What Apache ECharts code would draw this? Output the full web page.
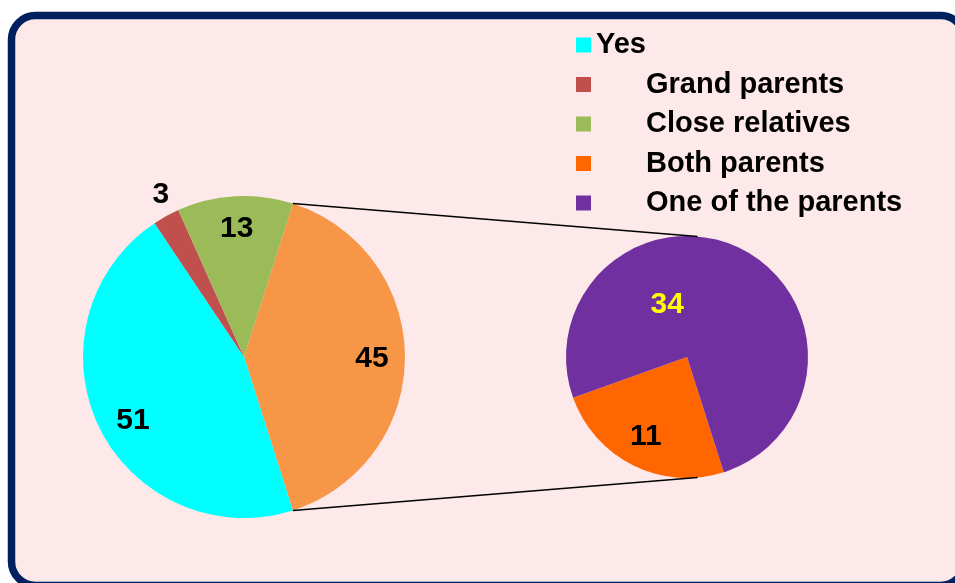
<!DOCTYPE html>
<html>
<head>
<meta charset="utf-8">
<title>Pie of pie</title>
<script src="https://cdn.jsdelivr.net/npm/echarts@6/dist/echarts.min.js"></script>
<style>
  html, body { margin: 0; padding: 0; background: #ffffff; }
  #chart { width: 955px; height: 583px; }
</style>
</head>
<body>
<div id="chart"></div>
<script>
// Legend entries (in display order)
const legendNames = ['Yes', 'Grand parents', 'Close relatives', 'Both parents', 'One of the parents'];

// Primary pie: the "Parents" slice is broken out into the secondary pie
const mainNames = ['Parents', 'Yes', 'Grand parents', 'Close relatives'];
const mainValues = [45, 51, 3, 13];

// Secondary pie: breakdown of the "Parents" slice
const splitNames = ['Both parents', 'One of the parents'];
const splitValues = [11, 34];

const colors = {
  'Parents': '#F79646',
  'Yes': '#00FFFF',
  'Grand parents': '#C0504D',
  'Close relatives': '#9BBB59',
  'Both parents': '#FF6600',
  'One of the parents': '#7030A0'
};

// Fine placement of the value labels
const labelOffsets = {
  'Parents': [-3, 2],
  'Yes': [7, 7],
  'Grand parents': [7, 1],
  'Close relatives': [0, 3],
  'Both parents': [-13, 23],
  'One of the parents': [-48, 5]
};

const FONT = '"Liberation Sans", Arial, Helvetica, sans-serif';

// Geometry of the two pies
const mainCenter = [244, 357];
const mainRadius = 161;
const subCenter = [687, 357];
const subRadius = 121;
const subStart = -72.3;

const total = mainValues.reduce((a, b) => a + b, 0);
// Broken-out slice is centred on the 3 o'clock direction
const halfSpan = mainValues[0] / total * 180;

const chart = echarts.init(document.getElementById('chart'), null, { renderer: 'canvas' });

const labelBase = {
  fontFamily: FONT,
  fontWeight: 'bold',
  fontSize: 30,
  color: '#000000'
};

// Connector lines from the edges of the broken-out slice to the secondary pie
const rad = Math.PI / 180;
const p1 = [mainCenter[0] + mainRadius * Math.cos(halfSpan * rad), mainCenter[1] - mainRadius * Math.sin(halfSpan * rad)];
const p2 = [mainCenter[0] + mainRadius * Math.cos(halfSpan * rad), mainCenter[1] + mainRadius * Math.sin(halfSpan * rad)];
const q1 = [subCenter[0] + subRadius * Math.cos(85 * rad), subCenter[1] - subRadius * Math.sin(85 * rad)];
const q2 = [subCenter[0] + subRadius * Math.cos(85 * rad), subCenter[1] + subRadius * Math.sin(85 * rad)];

function labelPie(radius, showFn) {
  return {
    type: 'pie',
    center: mainCenter,
    radius: radius,
    startAngle: halfSpan,
    clockwise: true,
    silent: true,
    avoidLabelOverlap: false,
    emphasis: { disabled: true },
    labelLine: { show: false },
    itemStyle: { color: 'transparent', borderWidth: 0 },
    label: Object.assign({ show: true, position: 'inside', formatter: '{c}' }, labelBase),
    data: mainNames.map((n, i) => ({
      name: n,
      value: mainValues[i],
      itemStyle: { color: 'transparent' },
      label: { show: showFn(n), offset: labelOffsets[n] }
    }))
  };
}

const option = {
  animation: false,
  backgroundColor: '#ffffff',
  legend: {
    data: legendNames,
    orient: 'vertical',
    left: 576,
    top: 30,
    padding: 0,
    icon: 'rect',
    itemWidth: 15,
    itemHeight: 15,
    itemGap: 9.5,
    selectedMode: false,
    formatter: function (name) {
      return name === 'Yes' ? name : '{ind|' + name + '}';
    },
    textStyle: {
      fontFamily: FONT,
      fontWeight: 'bold',
      fontSize: 29,
      lineHeight: 30,
      color: '#000000',
      rich: {
        ind: {
          fontFamily: FONT,
          fontWeight: 'bold',
          fontSize: 29,
          lineHeight: 30,
          color: '#000000',
          padding: [0, 0, 0, 50]
        }
      }
    }
  },
  graphic: [
    {
      type: 'rect',
      z: -10,
      silent: true,
      shape: { x: 11.5, y: 15.5, width: 953, height: 570, r: 24 },
      style: { fill: '#FDE9E9', stroke: '#002060', lineWidth: 7.5 }
    },
    {
      type: 'line',
      z: 100,
      silent: true,
      shape: { x1: p1[0], y1: p1[1], x2: q1[0], y2: q1[1] },
      style: { stroke: '#000000', lineWidth: 1.5 }
    },
    {
      type: 'line',
      z: 100,
      silent: true,
      shape: { x1: p2[0], y1: p2[1], x2: q2[0], y2: q2[1] },
      style: { stroke: '#000000', lineWidth: 1.5 }
    }
  ],
  series: [
    {
      type: 'pie',
      center: mainCenter,
      radius: [0, mainRadius],
      startAngle: halfSpan,
      clockwise: true,
      avoidLabelOverlap: false,
      emphasis: { disabled: true },
      itemStyle: { borderWidth: 0 },
      label: { show: false },
      labelLine: { show: false },
      data: mainNames.map((n, i) => ({
        name: n,
        value: mainValues[i],
        itemStyle: { color: colors[n] }
      }))
    },
    {
      type: 'pie',
      center: subCenter,
      radius: [0, subRadius],
      startAngle: subStart,
      clockwise: true,
      avoidLabelOverlap: false,
      emphasis: { disabled: true },
      itemStyle: { borderWidth: 0 },
      labelLine: { show: false },
      label: Object.assign({ show: true, position: 'inside', formatter: '{c}' }, labelBase),
      data: splitNames.map((n, i) => ({
        name: n,
        value: splitValues[i],
        itemStyle: { color: colors[n] },
        label: {
          color: n === 'One of the parents' ? '#FFFF00' : '#000000',
          offset: labelOffsets[n]
        }
      }))
    },
    // value labels in the outer band of the primary pie
    labelPie([95, mainRadius], n => n !== 'Grand parents'),
    // the thin slice gets its label just outside the rim
    labelPie([mainRadius, 206], n => n === 'Grand parents')
  ]
};

chart.setOption(option);
</script>
</body>
</html>
